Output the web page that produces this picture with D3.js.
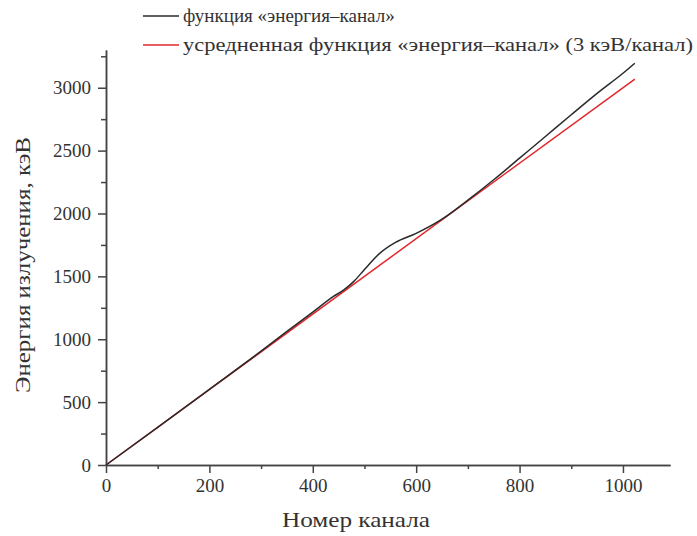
<!DOCTYPE html>
<html>
<head>
<meta charset="utf-8">
<script src="https://cdn.jsdelivr.net/npm/d3@7"></script>
</head>
<body style="margin:0">
<svg width="697" height="536"></svg>
<script>
const svg = d3.select("svg");

// DATA
const channels = [0, 100, 200, 300, 350, 400, 440, 460, 480, 500, 530, 560, 600, 650, 700, 750, 800, 850, 900, 950, 1000, 1023];
const energy   = [0, 300, 602, 905, 1062, 1215, 1340, 1392, 1462, 1555, 1685, 1770, 1842, 1955, 2106, 2268, 2440, 2612, 2785, 2955, 3115, 3195];
const avgChannels = [0, 1023];
const avgEnergy   = [0, 3069];
const xTicks = [0, 200, 400, 600, 800, 1000];
const yTicks = [0, 500, 1000, 1500, 2000, 2500, 3000];
const legendLabels = ["функция «энергия–канал»", "усредненная функция «энергия–канал» (3 кэВ/канал)"];

// CONSTANTS
const width = +svg.attr("width");
const height = +svg.attr("height");
const margin = { top: 50, left: 106, right: 27, bottom: 71 };
const innerWidth = width - margin.left - margin.right;
const innerHeight = height - margin.top - margin.bottom;
const axisColor = "#444";
const textColor = "#333";
const font = size => `font-family: 'Liberation Serif', Tinos, 'Times New Roman', serif; font-size: ${size}px`;

// SCALES
const xScale = d3.scaleLinear().domain([0, 1091]).range([0, innerWidth]);
const yScale = d3.scaleLinear().domain([0, 3300]).range([innerHeight, 0]);

const g = svg.append("g").attr("transform", `translate(${margin.left}, ${margin.top})`);

// minor ticks
const xMinor = d3.axisBottom(xScale).tickValues(d3.range(100, 1100, 200)).tickSize(4).tickFormat("").tickSizeOuter(0);
const yMinor = d3.axisLeft(yScale).tickValues(d3.range(250, 3300, 500)).tickSize(5).tickFormat("").tickSizeOuter(0);

const xAxis = d3.axisBottom(xScale).tickValues(xTicks).tickFormat(d3.format("d")).tickSize(8).tickPadding(6).tickSizeOuter(0);
const yAxis = d3.axisLeft(yScale).tickValues(yTicks).tickFormat(d3.format("d")).tickSize(8).tickPadding(7).tickSizeOuter(0);

g.append("g").attr("transform", `translate(0, ${innerHeight})`).call(xMinor);
g.append("g").call(yMinor);
const gx = g.append("g").attr("transform", `translate(0, ${innerHeight})`).call(xAxis);
const gy = g.append("g").call(yAxis);

// d3 axes put font-family="sans-serif" on their group; drop it
g.selectAll("g").attr("font-family", null).attr("font-size", null);
svg.selectAll(".domain, .tick line").attr("stroke", axisColor).attr("stroke-width", 1.5);
gx.selectAll("text").attr("style", font(19)).attr("fill", textColor);
gy.selectAll("text").attr("style", font(19)).attr("fill", textColor);

// Lines
const line = d3.line().x(d => xScale(d[0])).y(d => yScale(d[1])).curve(d3.curveMonotoneX);

g.append("path")
  .datum(avgChannels.map((c, i) => [c, avgEnergy[i]]))
  .attr("d", line)
  .attr("fill", "none")
  .attr("stroke", "#e3262b")
  .attr("stroke-width", 1.5);

g.append("path")
  .datum(channels.map((c, i) => [c, energy[i]]))
  .attr("d", line)
  .attr("fill", "none")
  .attr("stroke", "#2a2a2a")
  .attr("stroke-width", 1.5);

// Axis titles (textLength keeps the reference width whatever font is picked)
svg.append("text")
  .attr("x", 356)
  .attr("y", 527)
  .attr("text-anchor", "middle")
  .attr("fill", textColor)
  .attr("style", font(22))
  .attr("textLength", 148)
  .attr("lengthAdjust", "spacingAndGlyphs")
  .text("Номер канала");

svg.append("text")
  .attr("transform", `translate(30, 265) rotate(-90)`)
  .attr("text-anchor", "middle")
  .attr("fill", textColor)
  .attr("style", font(22))
  .attr("textLength", 256)
  .attr("lengthAdjust", "spacingAndGlyphs")
  .text("Энергия излучения, кэВ");

// Legend
const legendColors = ["#2a2a2a", "#e3262b"];
const legendWidths = [null, 510];
const legend = svg.append("g").selectAll("g").data(legendLabels).enter().append("g")
  .attr("transform", (d, i) => `translate(143, ${16 + i * 29})`);
legend.append("line")
  .attr("x1", 0).attr("x2", 36).attr("y1", 0).attr("y2", 0)
  .attr("stroke", (d, i) => legendColors[i])
  .attr("stroke-width", 1.5);
legend.append("text")
  .attr("x", 40)
  .attr("dy", "0.32em")
  .attr("fill", textColor)
  .attr("style", font(19))
  .attr("textLength", (d, i) => legendWidths[i])
  .attr("lengthAdjust", (d, i) => legendWidths[i] ? "spacingAndGlyphs" : null)
  .text(d => d);
</script>
</body>
</html>
